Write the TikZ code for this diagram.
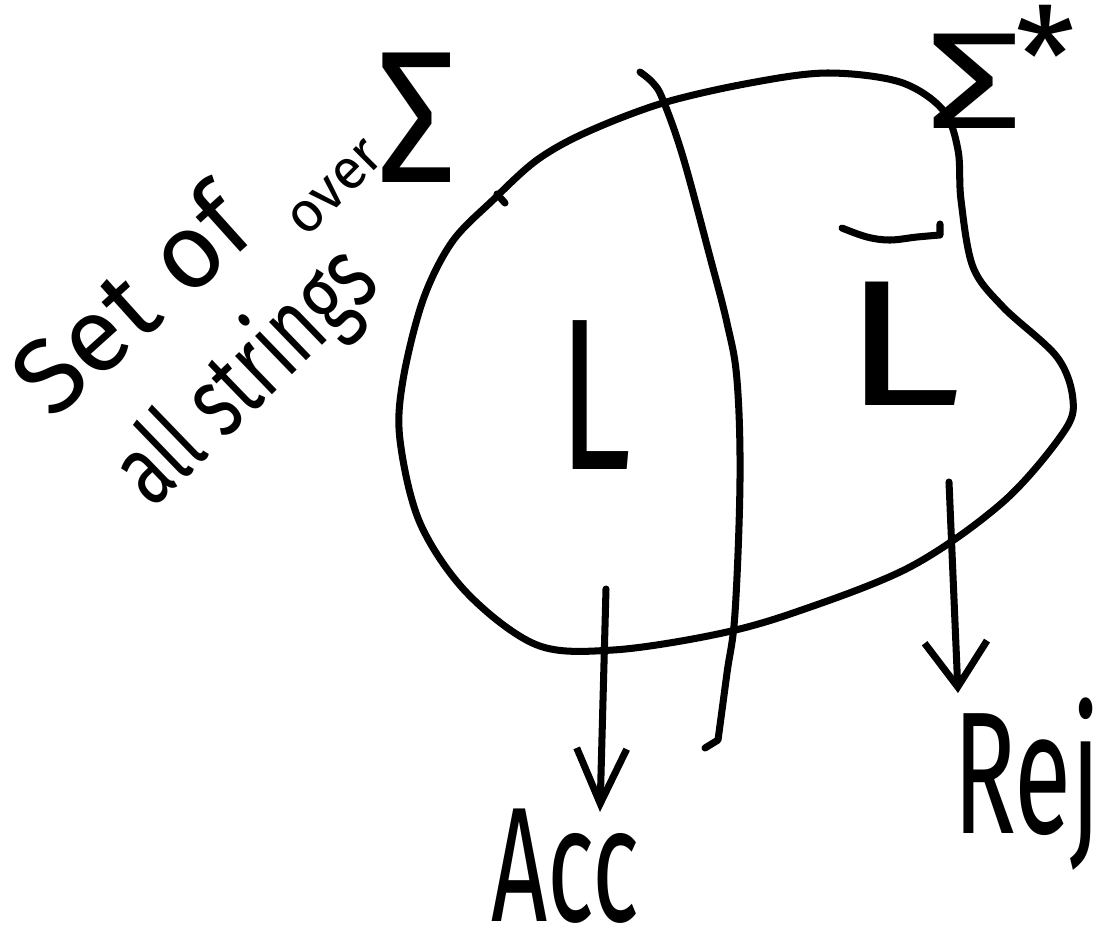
\documentclass[tikz,border=0pt]{standalone}
\usepackage{graphicx}
\usepackage{fontspec}
\newfontfamily\hand{Fira Sans}
\usetikzlibrary{arrows.meta}
\tikzset{
  pen/.style={line width=4pt, line cap=round, line join=round},
  txt/.style={inner sep=0pt, font=\hand},
}
\begin{document}
\begin{tikzpicture}[x=0.02cm,y=-0.02cm]
\useasboundingbox[fill=white] (0,0) rectangle (1117,941);

% the set of all strings (blob)
\draw[pen] plot[smooth cycle, tension=0.55] coordinates {(400,440) (403,380) (423,300) (452,242) (493,200) (537,160) (587,132) (663,103) (750,83) (827,73) (900,82) (943,110) (958,150) (961,200) (973,267) (1003,307) (1057,357) (1073,400) (1063,433) (1003,502) (910,567) (793,613) (713,635) (613,650) (537,645) (467,593) (420,523)};
\draw[pen] (497,194) -- (505,203);

% divider
\draw[pen] plot[smooth, tension=0.6] coordinates {(640,72) (653,83) (663,100) (683,157) (710,257) (727,323) (737,380) (740,480) (735,613) (727,673) (718,740)} -- (705,748);

% labels
\node[txt] (Ll) at (595,395) {\fontsize{123}{123}\selectfont\scalebox{0.68}[1]{L}};
\node[txt] (Lr) at (902,344) {\fontsize{102}{102}\selectfont\scalebox{1.35}[1]{L}};
\draw[pen] plot[smooth, tension=0.6] coordinates {(842,228) (867,237) (890,240) (917,237) (940,235)} -- (940,224);

\node[txt, anchor=base] (acc) at (565,921) {\fontsize{93}{93}\selectfont\scalebox{0.6}[1]{Acc}};
\node[txt, anchor=base] (rej) at (1027,833) {\fontsize{99}{99}\selectfont\scalebox{0.6}[1]{Rej}};

\node[txt, anchor=base west] (sigstar) at (926,128) {\fontsize{78}{78}\selectfont\scalebox{1.4}[1]{Σ}\kern-4pt\raisebox{12pt}{*}};
\node[txt] (sig) at (417,118) {\fontsize{107}{107}\selectfont\scalebox{0.85}[1]{Σ}};
\node[txt, rotate=42] (setof) at (130,300) {\fontsize{60}{60}\selectfont Set of};
\node[txt, rotate=45] (over) at (336,188) {\fontsize{32}{32}\selectfont over};
\node[txt, rotate=44] (all) at (248,378) {\fontsize{41}{41}\selectfont\scalebox{1}[1.4]{all strings}};

% arrows
\coordinate (aS) at (606,589);
\coordinate (aE) at (600,812);
\coordinate (rS) at (949,482);
\coordinate (rE) at (958,693);
\draw[pen, -{Straight Barb[length=1.1cm,width=1cm]}] (aS) -- (aE);
\draw[pen, -{Straight Barb[length=0.9cm,width=1.25cm]}] (rS) -- (rE);
\end{tikzpicture}
\end{document}
